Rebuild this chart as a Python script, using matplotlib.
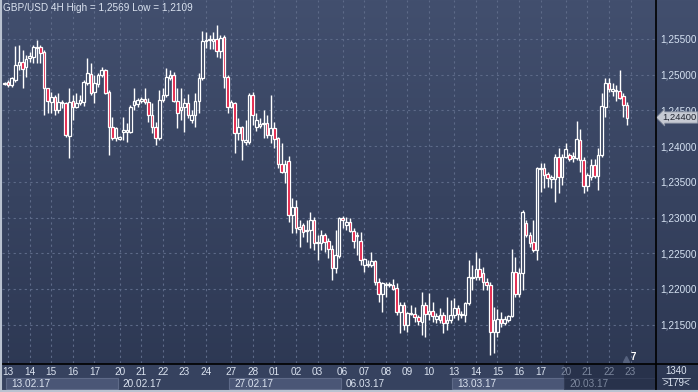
import numpy as np
import matplotlib
matplotlib.use("Agg")
import matplotlib.pyplot as plt
from matplotlib.patches import Rectangle
from matplotlib.lines import Line2D
from matplotlib.colors import LinearSegmentedColormap
import matplotlib.transforms as mtransforms

plt.rcParams["font.family"] = ["Liberation Sans", "DejaVu Sans"]

## GBP/USD 4H candles
opens = [1.2487, 1.2490, 1.2486, 1.2493, 1.2514, 1.2518, 1.2511, 1.2523, 1.2525, 1.2537,
         1.2539, 1.2532, 1.2481, 1.2462, 1.2469, 1.2450, 1.2460, 1.2460, 1.2414, 1.2463,
         1.2455, 1.2460, 1.2462, 1.2488, 1.2501, 1.2476, 1.2487, 1.2500, 1.2507, 1.2476,
         1.2427, 1.2411, 1.2410, 1.2420, 1.2420, 1.2420, 1.2458, 1.2459, 1.2463, 1.2466,
         1.2462, 1.2443, 1.2427, 1.2411, 1.2465, 1.2472, 1.2495, 1.2500, 1.2463, 1.2450,
         1.2455, 1.2460, 1.2436, 1.2443, 1.2463, 1.2495, 1.2547, 1.2548, 1.2547, 1.2550,
         1.2533, 1.2553, 1.2497, 1.2455, 1.2460, 1.2418, 1.2427, 1.2406, 1.2406, 1.2472,
         1.2427, 1.2428, 1.2431, 1.2432, 1.2416, 1.2425, 1.2411, 1.2375, 1.2364, 1.2379,
         1.2304, 1.2315, 1.2284, 1.2290, 1.2281, 1.2283, 1.2296, 1.2264, 1.2264, 1.2275,
         1.2267, 1.2256, 1.2229, 1.2246, 1.2299, 1.2290, 1.2294, 1.2281, 1.2274, 1.2267,
         1.2234, 1.2234, 1.2234, 1.2239, 1.2210, 1.2193, 1.2206, 1.2206, 1.2206, 1.2202,
         1.2168, 1.2178, 1.2150, 1.2165, 1.2165, 1.2161, 1.2154, 1.2178, 1.2165, 1.2169,
         1.2158, 1.2156, 1.2164, 1.2152, 1.2156, 1.2164, 1.2173, 1.2164, 1.2164, 1.2180,
         1.2216, 1.2217, 1.2228, 1.2222, 1.2210, 1.2206, 1.2140, 1.2140, 1.2158, 1.2152,
         1.2156, 1.2162, 1.2224, 1.2193, 1.2222, 1.2292, 1.2275, 1.2266, 1.2255, 1.2368,
         1.2369, 1.2361, 1.2354, 1.2354, 1.2385, 1.2357, 1.2385, 1.2388, 1.2383, 1.2383,
         1.2409, 1.2381, 1.2344, 1.2357, 1.2374, 1.2358, 1.2388, 1.2455, 1.2488, 1.2477,
         1.2477, 1.2477, 1.2470, 1.2458]
highs = [1.2490, 1.2493, 1.2497, 1.2540, 1.2542, 1.2535, 1.2528, 1.2532, 1.2542, 1.2549,
         1.2542, 1.2535, 1.2481, 1.2476, 1.2472, 1.2474, 1.2465, 1.2462, 1.2481, 1.2472,
         1.2474, 1.2472, 1.2493, 1.2523, 1.2516, 1.2500, 1.2502, 1.2511, 1.2508, 1.2479,
         1.2441, 1.2427, 1.2414, 1.2441, 1.2432, 1.2458, 1.2481, 1.2467, 1.2469, 1.2481,
         1.2467, 1.2460, 1.2434, 1.2479, 1.2481, 1.2509, 1.2507, 1.2504, 1.2481, 1.2481,
         1.2467, 1.2473, 1.2450, 1.2474, 1.2502, 1.2561, 1.2560, 1.2556, 1.2560, 1.2570,
         1.2556, 1.2556, 1.2500, 1.2465, 1.2462, 1.2439, 1.2428, 1.2436, 1.2474, 1.2476,
         1.2446, 1.2439, 1.2450, 1.2443, 1.2472, 1.2434, 1.2413, 1.2404, 1.2381, 1.2386,
         1.2327, 1.2325, 1.2296, 1.2292, 1.2296, 1.2308, 1.2301, 1.2275, 1.2283, 1.2278,
         1.2271, 1.2262, 1.2283, 1.2301, 1.2302, 1.2301, 1.2299, 1.2285, 1.2280, 1.2280,
         1.2243, 1.2241, 1.2252, 1.2241, 1.2216, 1.2210, 1.2210, 1.2210, 1.2214, 1.2209,
         1.2182, 1.2182, 1.2168, 1.2178, 1.2175, 1.2164, 1.2196, 1.2182, 1.2194, 1.2182,
         1.2166, 1.2173, 1.2168, 1.2189, 1.2185, 1.2187, 1.2178, 1.2169, 1.2182, 1.2241,
         1.2234, 1.2252, 1.2243, 1.2231, 1.2216, 1.2210, 1.2175, 1.2172, 1.2168, 1.2162,
         1.2164, 1.2256, 1.2245, 1.2229, 1.2311, 1.2296, 1.2280, 1.2296, 1.2371, 1.2376,
         1.2376, 1.2364, 1.2360, 1.2389, 1.2397, 1.2389, 1.2404, 1.2390, 1.2392, 1.2435,
         1.2424, 1.2385, 1.2362, 1.2382, 1.2382, 1.2397, 1.2474, 1.2495, 1.2495, 1.2488,
         1.2486, 1.2507, 1.2474, 1.2462]
lows = [1.2486, 1.2483, 1.2483, 1.2490, 1.2507, 1.2481, 1.2497, 1.2518, 1.2516, 1.2516,
        1.2516, 1.2443, 1.2447, 1.2446, 1.2443, 1.2446, 1.2453, 1.2413, 1.2383, 1.2436,
        1.2453, 1.2458, 1.2456, 1.2486, 1.2472, 1.2460, 1.2483, 1.2497, 1.2473, 1.2388,
        1.2409, 1.2407, 1.2409, 1.2409, 1.2406, 1.2418, 1.2450, 1.2455, 1.2460, 1.2459,
        1.2434, 1.2418, 1.2402, 1.2409, 1.2462, 1.2469, 1.2493, 1.2462, 1.2425, 1.2436,
        1.2420, 1.2439, 1.2432, 1.2427, 1.2447, 1.2493, 1.2537, 1.2536, 1.2536, 1.2525,
        1.2523, 1.2481, 1.2447, 1.2453, 1.2390, 1.2409, 1.2381, 1.2402, 1.2403, 1.2430,
        1.2421, 1.2425, 1.2411, 1.2411, 1.2404, 1.2397, 1.2369, 1.2362, 1.2349, 1.2294,
        1.2278, 1.2278, 1.2259, 1.2273, 1.2266, 1.2257, 1.2255, 1.2241, 1.2255, 1.2252,
        1.2243, 1.2213, 1.2222, 1.2243, 1.2285, 1.2283, 1.2280, 1.2257, 1.2248, 1.2234,
        1.2224, 1.2231, 1.2231, 1.2206, 1.2182, 1.2168, 1.2189, 1.2203, 1.2199, 1.2164,
        1.2139, 1.2143, 1.2140, 1.2164, 1.2154, 1.2150, 1.2136, 1.2133, 1.2156, 1.2154,
        1.2152, 1.2152, 1.2139, 1.2143, 1.2152, 1.2159, 1.2156, 1.2159, 1.2154, 1.2178,
        1.2199, 1.2213, 1.2213, 1.2199, 1.2199, 1.2108, 1.2110, 1.2133, 1.2147, 1.2150,
        1.2154, 1.2161, 1.2189, 1.2189, 1.2199, 1.2273, 1.2259, 1.2252, 1.2241, 1.2336,
        1.2341, 1.2343, 1.2341, 1.2322, 1.2334, 1.2346, 1.2383, 1.2379, 1.2378, 1.2381,
        1.2364, 1.2334, 1.2337, 1.2353, 1.2356, 1.2339, 1.2385, 1.2441, 1.2476, 1.2470,
        1.2463, 1.2466, 1.2441, 1.2430]
closes = [1.2488, 1.2486, 1.2495, 1.2514, 1.2518, 1.2508, 1.2522, 1.2526, 1.2539, 1.2539,
          1.2530, 1.2481, 1.2463, 1.2469, 1.2450, 1.2462, 1.2462, 1.2416, 1.2462, 1.2455,
          1.2460, 1.2465, 1.2490, 1.2502, 1.2474, 1.2488, 1.2500, 1.2507, 1.2474, 1.2427,
          1.2411, 1.2425, 1.2413, 1.2423, 1.2423, 1.2455, 1.2463, 1.2465, 1.2466, 1.2462,
          1.2443, 1.2427, 1.2411, 1.2465, 1.2472, 1.2497, 1.2500, 1.2463, 1.2447, 1.2455,
          1.2460, 1.2443, 1.2443, 1.2463, 1.2495, 1.2547, 1.2549, 1.2550, 1.2550, 1.2533,
          1.2551, 1.2497, 1.2455, 1.2462, 1.2418, 1.2427, 1.2409, 1.2409, 1.2472, 1.2443,
          1.2436, 1.2431, 1.2432, 1.2416, 1.2425, 1.2410, 1.2375, 1.2364, 1.2375, 1.2304,
          1.2315, 1.2285, 1.2287, 1.2280, 1.2283, 1.2296, 1.2264, 1.2266, 1.2275, 1.2266,
          1.2256, 1.2229, 1.2248, 1.2299, 1.2296, 1.2294, 1.2281, 1.2267, 1.2275, 1.2241,
          1.2242, 1.2235, 1.2239, 1.2210, 1.2193, 1.2209, 1.2207, 1.2207, 1.2200, 1.2168,
          1.2178, 1.2150, 1.2166, 1.2166, 1.2161, 1.2155, 1.2178, 1.2165, 1.2169, 1.2162,
          1.2162, 1.2164, 1.2152, 1.2156, 1.2164, 1.2173, 1.2165, 1.2165, 1.2180, 1.2217,
          1.2217, 1.2228, 1.2217, 1.2210, 1.2206, 1.2140, 1.2156, 1.2158, 1.2152, 1.2158,
          1.2162, 1.2224, 1.2193, 1.2222, 1.2308, 1.2275, 1.2264, 1.2255, 1.2369, 1.2369,
          1.2360, 1.2356, 1.2357, 1.2385, 1.2357, 1.2385, 1.2396, 1.2382, 1.2386, 1.2410,
          1.2381, 1.2344, 1.2360, 1.2374, 1.2358, 1.2388, 1.2456, 1.2488, 1.2480, 1.2480,
          1.2479, 1.2467, 1.2458, 1.2440]

week_labels = ["13.02.17", "20.02.17", "27.02.17", "06.03.17", "13.03.17", "20.03.17"]
day_labels = [["13", "14", "15", "16", "17"],
              ["20", "21", "22", "23", "24"],
              ["27", "28", "01", "02", "03"],
              ["06", "07", "08", "09", "10"],
              ["13", "14", "15", "16", "17"],
              ["20", "21", "22", "23"]]
yticks = [1.215, 1.220, 1.225, 1.230, 1.235, 1.240, 1.245, 1.250, 1.255]
title = "GBP/USD 4H High = 1,2569 Low = 1,2109"
visible_bars = 179
bar_width_px = 1340
counter = "7"

# 4H bars: one Sunday bar then 6 bars per weekday -> 31 per week
bars_week = 31
bars_day = 6

o = np.array(opens); h = np.array(highs); l = np.array(lows); c = np.array(closes)
n = len(o)
x = np.arange(n)

W, H = 698, 392
fig = plt.figure(figsize=(W / 100, H / 100), dpi=100)
fig.patch.set_facecolor("#36425e")

def box(left, top, right, bottom):
    return [left / W, 1 - bottom / H, (right - left) / W, (bottom - top) / H]

# background gradient
bg = fig.add_axes([0, 0, 1, 1], zorder=-10)
bg.axis("off")
grad = np.linspace(0, 1, 256).reshape(-1, 1)
cmap = LinearSegmentedColormap.from_list("bg", ["#424f6e", "#2c3752"])
bg.imshow(grad, aspect="auto", cmap=cmap, extent=[0, 1, 0, 1])

ax = fig.add_axes(box(2, 0, 655, 363))
ax.set_facecolor("none")
ax.set_xlim(-0.7, 180.8)
ax.set_ylim(1.20963, 1.26045)

# day gridlines
day_idx = []
for w, days in enumerate(day_labels):
    for d in range(len(days)):
        day_idx.append(1 + bars_week * w + bars_day * d)
ax.set_xticks(day_idx)
ax.set_yticks(yticks)
ax.grid(True, color="#5d6a88", linestyle=(0, (2, 3)), linewidth=0.8)
ax.tick_params(axis="x", length=0, labelbottom=False)
ax.yaxis.tick_right()
ax.tick_params(axis="y", length=0, pad=4, labelsize=7.2, labelcolor="#d6e2f2")
ax.set_yticklabels([f"{v:.5f}".replace(".", ",") for v in yticks])
for s in ax.spines.values():
    s.set_visible(False)

# candles
up = c >= o
body_lo = np.minimum(o, c)
body_hi = np.maximum(o, c)
ax.vlines(x, body_hi, h, color="white", linewidth=1.0, zorder=3)
ax.vlines(x, l, body_lo, color="white", linewidth=1.0, zorder=3)
heights = np.maximum(body_hi - body_lo, 0.00004)
ax.bar(x, heights, bottom=body_lo, width=0.72,
       color=np.where(up, "#33405c", "#e2163e"), edgecolor="white",
       linewidth=0.9, zorder=4)

# current price tag
trans = mtransforms.blended_transform_factory(ax.transAxes, ax.transData)
ax.text(1.011, c[-1], f"{c[-1]:.5f}".replace(".", ","), transform=trans,
        fontsize=6.8, color="#202430", va="center", ha="left", zorder=6, clip_on=False,
        bbox=dict(boxstyle="larrow,pad=0.12", fc="#c6cad3", ec="#8c94a4", lw=0.6))

# title
fig.text(3 / W, 1 - 8 / H, title, fontsize=7.2, color="#dbe3f0", va="center", ha="left")

# bottom time panel
axb = fig.add_axes(box(2, 364, 655, 391))
axb.set_xlim(ax.get_xlim())
axb.set_ylim(0, 1)
axb.axis("off")
axb.add_patch(Rectangle((0, 0), 1, 1, transform=axb.transAxes, fc="#36425f", ec="none", zorder=0))
for w, wk in enumerate(week_labels):
    start = bars_week * w + 0.5
    end = min(start + bars_week, 180.8)
    last = w == len(week_labels) - 1
    if last:
        axb.add_patch(Rectangle((start, 0), 180.8 - start, 1, fc="#28324b", ec="none", zorder=1))
    if w % 2 == 0 or last:
        axb.add_patch(Rectangle((start, 0.06), end - start, 0.44,
                                fc="#28324b" if last else "#4a5676",
                                ec="#5e6a88" if not last else "#323c56", lw=0.8, zorder=2))
    axb.text(start + 1.4, 0.27, wk, fontsize=7.2, va="center", ha="left",
             color="#7d889e" if last else "#dbe3f0", zorder=3)
    for d, dl in enumerate(day_labels[w]):
        axb.text(1 + bars_week * w + bars_day * d, 0.7, dl, fontsize=7.2, ha="center", va="center",
                 color="#7d889e" if last else "#dbe3f0", zorder=3)

# right bottom corner
fig.text(676 / W, 1 - 371 / H, str(bar_width_px), fontsize=7, color="#dbe3f0", ha="center", va="center")
fig.text(676 / W, 1 - 383.5 / H, ">" + str(visible_bars) + "<", fontsize=7, color="#dbe3f0", ha="center", va="center")
fig.add_artist(Line2D([662 / W, 690 / W], [1 - 377.5 / H] * 2, color="#b8c2d2", lw=0.6))

# bar counter
fig.text(633 / W, 1 - 357 / H, counter, fontsize=7, fontweight="bold", color="white", ha="center", va="center")
fig.add_artist(Line2D([626 / W], [1 - 359 / H], marker="^", color="#56627e", markersize=4, lw=0))

# separators and frame
fig.add_artist(Line2D([655.5 / W] * 2, [0, 1], color="black", lw=1.2))
fig.add_artist(Line2D([0, 1], [1 - 363.5 / H] * 2, color="black", lw=1.2))
fig.add_artist(Line2D([0.7 / W] * 2, [0, 1], color="#b9c2d0", lw=1.5))
fig.add_artist(Line2D([0, 1], [1 - 391 / H] * 2, color="#b9c2d0", lw=1.5))

fig.savefig("out.png", dpi=100, facecolor=fig.get_facecolor())
